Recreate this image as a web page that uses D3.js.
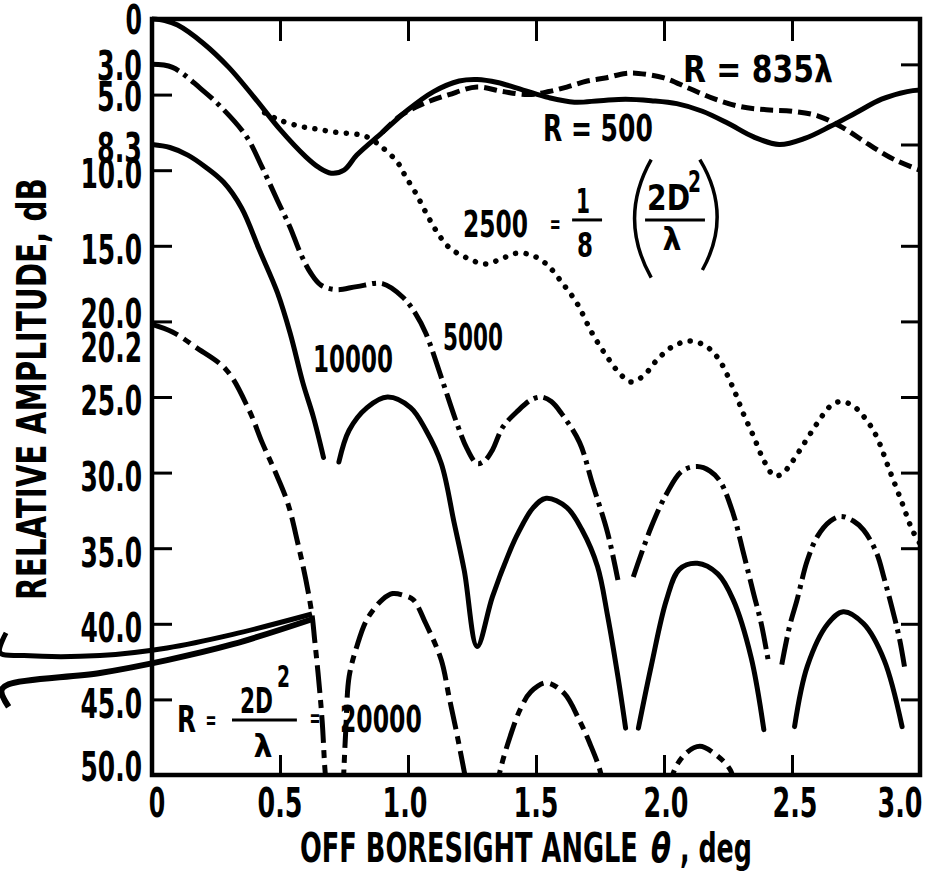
<!DOCTYPE html>
<html><head><meta charset="utf-8">
<script src="https://cdn.jsdelivr.net/npm/d3@7"></script>
<style>
html,body{margin:0;padding:0;background:#fff;}
svg{display:block;}
text{font-family:"Liberation Sans Narrow","DejaVu Sans Condensed","Arial Narrow",sans-serif;font-weight:bold;fill:#000;}
</style></head><body>
<svg id="chart" width="936" height="874"></svg>
<script>
// ---------------- DATA ----------------
const xTickValues = [0, 0.5, 1.0, 1.5, 2.0, 2.5, 3.0];
const xTickLabels = ["0", "0.5", "1.0", "1.5", "2.0", "2.5", "3.0"];
const innerXTicks = [0.5, 1.0, 1.5, 2.0, 2.5];
const yLabelValues = [0, 3, 5, 8.3, 10, 15, 20, 20.2, 25, 30, 35, 40, 45, 50];
const yLabelTexts = ["0", "3.0", "5.0", "8.3", "10.0", "15.0", "20.0", "20.2", "25.0", "30.0", "35.0", "40.0", "45.0", "50.0"];
const leftTickValues = [5, 10, 15, 20, 25, 30, 35, 40, 45];
const rightTickValues = [3, 8.3, 15, 20, 25, 30, 35, 40, 45];

// R = 500 (solid)
const r500Theta = [0, 0.05, 0.1, 0.2, 0.3, 0.4, 0.5, 0.6, 0.65, 0.7, 0.75, 0.8, 0.9, 1.0, 1.1, 1.2, 1.27, 1.35, 1.45, 1.55, 1.65, 1.75, 1.85, 1.95, 2.05, 2.15, 2.25, 2.35, 2.45, 2.55, 2.65, 2.75, 2.85, 2.95, 3.0];
const r500Db    = [0, 0.1, 0.4, 1.6, 3.2, 5.2, 7.3, 9.1, 9.8, 10.2, 10.0, 9.0, 7.5, 6.0, 4.8, 4.1, 4.0, 4.2, 4.7, 5.2, 5.5, 5.4, 5.3, 5.4, 5.6, 6.1, 6.9, 7.8, 8.3, 7.9, 7.1, 6.2, 5.3, 4.8, 4.7];

// R = 835 lambda (dashed)
const r835Theta = [0.9, 0.97, 1.06, 1.16, 1.27, 1.37, 1.47, 1.55, 1.62, 1.7, 1.77, 1.85, 1.9, 2.0, 2.1, 2.2, 2.3, 2.4, 2.5, 2.6, 2.7, 2.8, 2.9, 3.0];
const r835Db    = [7.5, 6.4, 5.6, 5.0, 4.5, 4.8, 5.0, 4.8, 4.5, 4.1, 3.9, 3.6, 3.6, 3.9, 4.6, 5.3, 5.8, 6.0, 6.1, 6.4, 7.2, 8.3, 9.3, 10.0];

// R = 2500 (dotted)
const r2500Theta = [0.44, 0.5, 0.58, 0.65, 0.72, 0.79, 0.84, 0.9, 0.96, 0.99, 1.03, 1.07, 1.11, 1.16, 1.23, 1.3, 1.36, 1.42, 1.48, 1.54, 1.6, 1.66, 1.72, 1.78, 1.83, 1.87, 1.92, 1.97, 2.03, 2.1, 2.16, 2.21, 2.27, 2.31, 2.35, 2.39, 2.43, 2.46, 2.5, 2.55, 2.6, 2.65, 2.69, 2.74, 2.79, 2.83, 2.88, 2.93, 2.97, 3.0];
const r2500Db    = [6.2, 6.7, 7.1, 7.3, 7.5, 7.6, 7.8, 8.5, 9.5, 10.4, 11.5, 12.8, 14.0, 15.1, 15.8, 16.2, 15.9, 15.5, 15.6, 16.2, 17.4, 18.8, 20.8, 22.4, 23.5, 24.0, 23.6, 22.6, 21.7, 21.3, 21.6, 22.4, 24.4, 26.1, 27.6, 29.2, 30.2, 30.1, 29.3, 28.0, 26.7, 25.6, 25.3, 25.6, 26.5, 27.6, 29.8, 32.0, 33.8, 34.7];

// R = 5000 (long dash - dot); null = break in the trace
const r5000Theta = [0, 0.08, 0.19, 0.28, 0.37, 0.43, 0.49, 0.54, 0.58, 0.62, 0.66, 0.72, 0.8, 0.9, 0.98, 1.03, 1.07, 1.13, 1.19, 1.23, 1.27, 1.3, 1.33, 1.37, 1.43, 1.48, 1.52, 1.56, 1.6, 1.67, 1.72, 1.78, 1.82, null, 1.88, 1.95, 2.01, 2.07, 2.13, 2.18, 2.22, 2.27, 2.31, 2.35, 2.38, 2.41, null, 2.46, 2.49, 2.52, 2.56, 2.6, 2.65, 2.69, 2.74, 2.78, 2.83, 2.86, 2.89, 2.92, 2.94];
const r5000Db    = [3.0, 3.2, 4.6, 6.0, 7.8, 9.8, 12.0, 13.8, 15.5, 16.8, 17.6, 17.9, 17.7, 17.5, 18.4, 19.5, 20.8, 23.7, 26.7, 28.4, 29.4, 29.2, 28.5, 27.0, 25.9, 25.2, 25.0, 25.3, 26.1, 28.0, 30.7, 34.0, 37.1, null, 36.9, 33.6, 31.4, 29.9, 29.6, 29.9, 30.6, 32.7, 35.3, 38.0, 40.0, 42.7, null, 42.7, 40.2, 38.4, 35.8, 34.2, 33.2, 32.9, 33.2, 33.8, 35.3, 37.0, 38.9, 41.0, 42.9];

// R = 10000 (solid)
const r10000Theta = [0, 0.07, 0.14, 0.21, 0.28, 0.35, 0.42, 0.49, 0.54, 0.59, 0.63, 0.67, null, 0.73, 0.77, 0.84, 0.92, 1.01, 1.07, 1.13, 1.18, 1.22, 1.27, 1.33, 1.4, 1.43, 1.49, 1.54, 1.62, 1.68, 1.74, 1.78, 1.82, 1.85, null, 1.9, 1.95, 2.01, 2.06, 2.13, 2.21, 2.27, 2.34, 2.39, null, 2.51, 2.56, 2.64, 2.7, 2.78, 2.86, 2.93];
const r10000Db    = [8.3, 8.5, 9.0, 9.8, 10.8, 12.5, 15.3, 18.1, 20.8, 24.1, 26.3, 29.0, null, 29.3, 27.2, 25.7, 25.0, 25.7, 27.2, 29.4, 33.3, 36.5, 41.5, 38.2, 35.1, 34.0, 32.3, 31.7, 32.3, 33.8, 36.2, 39.5, 43.5, 46.9, null, 46.9, 42.8, 38.4, 36.4, 36.0, 36.7, 38.4, 42.2, 47.0, null, 46.8, 42.8, 40.0, 39.2, 40.0, 42.4, 46.8];

// R = 2D^2/lambda = 20000 (long dash - short dash)
const r20000Theta = [0, 0.08, 0.17, 0.29, 0.38, 0.43, 0.48, 0.53, 0.57, 0.6, 0.625, 0.635, 0.65, 0.665, 0.675, 0.685, null, 0.745, 0.75, 0.757, 0.77, 0.8, 0.84, 0.9, 0.94, 0.98, 1.02, 1.07, 1.13, 1.16, 1.19, 1.22, 1.24, null, 1.34, 1.36, 1.4, 1.44, 1.48, 1.54, 1.61, 1.67, 1.71, 1.75, 1.77, null, 2.02, 2.04, 2.09, 2.14, 2.19, 2.26, 2.28];
const r20000Db    = [20.2, 20.7, 21.7, 23.2, 25.9, 28.0, 29.9, 32.0, 34.7, 37.0, 39.4, 41.0, 43.5, 46.5, 49.5, 51.5, null, 51.5, 49.5, 47.0, 43.5, 41.5, 39.7, 38.4, 38.0, 38.1, 38.4, 40.0, 42.4, 44.8, 47.2, 49.8, 51.5, null, 51.5, 49.7, 47.4, 45.6, 44.5, 43.9, 44.6, 46.4, 47.9, 49.7, 51.5, null, 51.5, 49.7, 48.5, 48.1, 48.5, 49.7, 51.5];

// leader strokes entering from the left margin
const leaderUpperTheta = [-0.57, -0.594, -0.5, -0.203, 0.059, 0.316, 0.625];
const leaderUpperDb    = [40.6, 41.9, 42.1, 42.1, 41.6, 40.7, 39.35];
const leaderLowerTheta = [-0.56, -0.588, -0.56, -0.203, 0.059, 0.316, 0.625];
const leaderLowerDb    = [45.5, 44.4, 44.0, 43.25, 42.4, 41.35, 39.7];

// ---------------- LAYOUT ----------------
const x = d3.scaleLinear().domain([0, 3]).range([152, 920]);
const y = d3.scaleLinear().domain([0, 50]).range([19, 775]);
const svg = d3.select("#chart");
const zip = (t, v) => t.map((d, i) => [d, v[i]]);
// condensed label width: digits and dots
const numWidth = s => s.replace(/[^0-9]/g, "").length * 16.5 + s.replace(/[^.]/g, "").length * 12;

// text drawn in a horizontally condensed form so it takes a given width
function ctext(parent, px, py, str, width, opts = {}) {
  const g = parent.append("g");
  const t = g.append("text").attr("x", 0).attr("y", 0)
    .attr("font-size", opts.size || 38).attr("text-anchor", opts.anchor || "start").text(str);
  if (opts.italic) t.attr("font-style", "italic");
  const natural = t.node().getComputedTextLength() || width;
  const k = width / natural;
  g.attr("transform", `translate(${px},${py})${opts.rotate ? ` rotate(${opts.rotate})` : ""} scale(${k},1)`);
  return g;
}

svg.append("defs").append("clipPath").attr("id", "plotClip")
  .append("rect").attr("x", x(0)).attr("y", y(0) - 3).attr("width", x(3) - x(0)).attr("height", y(50) - y(0) + 3);

// inward ticks through d3 axes
function tickAxis(gen, tx, ty, len) {
  const g = svg.append("g").attr("transform", `translate(${tx},${ty})`).call(gen.tickSize(len).tickFormat(""));
  g.select(".domain").remove();
  g.selectAll(".tick line").attr("stroke", "#000").attr("stroke-width", 3);
  return g;
}
tickAxis(d3.axisBottom(x).tickValues(innerXTicks), 0, y(50), -20);
tickAxis(d3.axisTop(x).tickValues(innerXTicks), 0, y(0), -22);
tickAxis(d3.axisLeft(y).tickValues(leftTickValues), x(0), 0, -20);
tickAxis(d3.axisRight(y).tickValues(rightTickValues), x(3), 0, -19);

// frame
svg.append("rect").attr("x", x(0)).attr("y", y(0)).attr("width", x(3) - x(0)).attr("height", y(50) - y(0))
  .attr("fill", "none").attr("stroke", "#000").attr("stroke-width", 4.5);

// tick labels
const yNudge = {"0": -3, "3.0": -3, "5.0": -2, "8.3": -1, "10.0": -1, "20.0": -12, "20.2": 19, "50.0": -12};
const yLab = svg.append("g");
yLabelValues.forEach((v, i) => {
  const s = yLabelTexts[i];
  ctext(yLab, 142, y(v) + 18.3 + (yNudge[s] || 0), s, numWidth(s), {size: 40, anchor: "end"});
});
const xNudge = {"0": 5, "3.0": -20, "1.0": -3, "2.0": 2, "2.5": 3};
const xLab = svg.append("g");
xTickValues.forEach((v, i) => {
  const s = xTickLabels[i];
  ctext(xLab, x(v) + (xNudge[s] || 0), 817, s, numWidth(s), {size: 40, anchor: "middle"});
});

// axis titles
const titles = svg.append("g");
ctext(titles, 300, 862, "OFF BORESIGHT ANGLE", 338, {size: 40});
ctext(titles, 651, 862, "θ", 20, {size: 40, italic: true});
ctext(titles, 680, 862, ", deg", 72, {size: 40});
ctext(titles, 46, 389, "RELATIVE AMPLITUDE, dB", 422, {size: 40, anchor: "middle", rotate: -90});

// curves
const line = d3.line().defined(d => d[0] != null && d[1] != null)
  .x(d => x(d[0])).y(d => y(d[1])).curve(d3.curveCatmullRom.alpha(0.5));
const curves = svg.append("g").attr("clip-path", "url(#plotClip)").attr("fill", "none").attr("stroke", "#000");

const series = [
  {t: r2500Theta, v: r2500Db, w: 5.5, dash: "0.1,10.5", cap: "round"},
  {t: r835Theta, v: r835Db, w: 5, dash: "13,6", cap: "butt"},
  {t: r500Theta, v: r500Db, w: 5, dash: null, cap: "round"},
  {t: r5000Theta, v: r5000Db, w: 5, dash: "28,6,4,6", cap: "butt"},
  {t: r10000Theta, v: r10000Db, w: 5, dash: null, cap: "round"},
  {t: r20000Theta, v: r20000Db, w: 5, dash: "28,7,8,7", cap: "butt"}
];
series.forEach(s => {
  curves.append("path").attr("d", line(zip(s.t, s.v)))
    .attr("stroke-width", s.w).attr("stroke-linecap", s.cap).attr("stroke-linejoin", "round")
    .attr("stroke-dasharray", s.dash);
});

// leader strokes (unclipped)
const leaderLine = d3.line().x(d => x(d[0])).y(d => y(d[1])).curve(d3.curveCatmullRom.alpha(0.5));
svg.append("path").attr("d", leaderLine(zip(leaderUpperTheta, leaderUpperDb)))
  .attr("fill", "none").attr("stroke", "#000").attr("stroke-width", 5).attr("stroke-linejoin", "round");
svg.append("path").attr("d", leaderLine(zip(leaderLowerTheta, leaderLowerDb)))
  .attr("fill", "none").attr("stroke", "#000").attr("stroke-width", 6).attr("stroke-linejoin", "round");

// annotations (anchored in data units)
const ann = svg.append("g");
function label(t, db, str, len, opts = {}) {
  return ctext(ann, x(t), y(db), str, len, opts);
}
function rule(t0, t1, db) {
  ann.append("line").attr("x1", x(t0)).attr("x2", x(t1)).attr("y1", y(db)).attr("y2", y(db))
    .attr("stroke", "#000").attr("stroke-width", 3);
}
label(2.074, 4.17, "R = 835λ", 150);
label(1.527, 8.07, "R = 500", 110);
label(1.215, 14.42, "2500", 65);
label(1.575, 14.13, "=", 11, {size: 24, anchor: "middle"});
label(1.684, 12.83, "1", 14, {size: 34, anchor: "middle"});
rule(1.641, 1.758, 13.29);
label(1.691, 15.74, "8", 16, {size: 34, anchor: "middle"});
label(1.934, 12.63, "2D", 43, {size: 36});
label(2.094, 11.44, "2", 13, {size: 30});
rule(1.926, 2.160, 13.29);
label(2.031, 15.28, "λ", 19, {size: 32, anchor: "middle"});
// big parentheses
const paren = (t0, t1, tb, d0, d1) => {
  const p = d3.path();
  p.moveTo(x(t0), y(d0));
  p.quadraticCurveTo(x(tb), (y(d0) + y(d1)) / 2, x(t1), y(d1));
  ann.append("path").attr("d", p.toString()).attr("fill", "none").attr("stroke", "#000").attr("stroke-width", 3.5);
};
paren(1.95, 1.95, 1.82, 9.3, 17.1);
paren(2.14, 2.15, 2.27, 9.3, 16.6);
label(0.629, 23.35, "10000", 80);
label(1.137, 21.89, "5000", 60);
label(0.098, 47.16, "R", 19);
label(0.230, 46.93, "=", 11, {size: 24, anchor: "middle"});
label(0.344, 45.9, "2D", 33, {size: 36});
label(0.488, 44.18, "2", 13, {size: 30});
rule(0.3125, 0.566, 46.36);
label(0.434, 48.81, "λ", 19, {size: 32, anchor: "middle"});
label(0.637, 46.8, "=", 11, {size: 24, anchor: "middle"});
label(0.734, 47.16, "20000", 82);
</script>
</body></html>
